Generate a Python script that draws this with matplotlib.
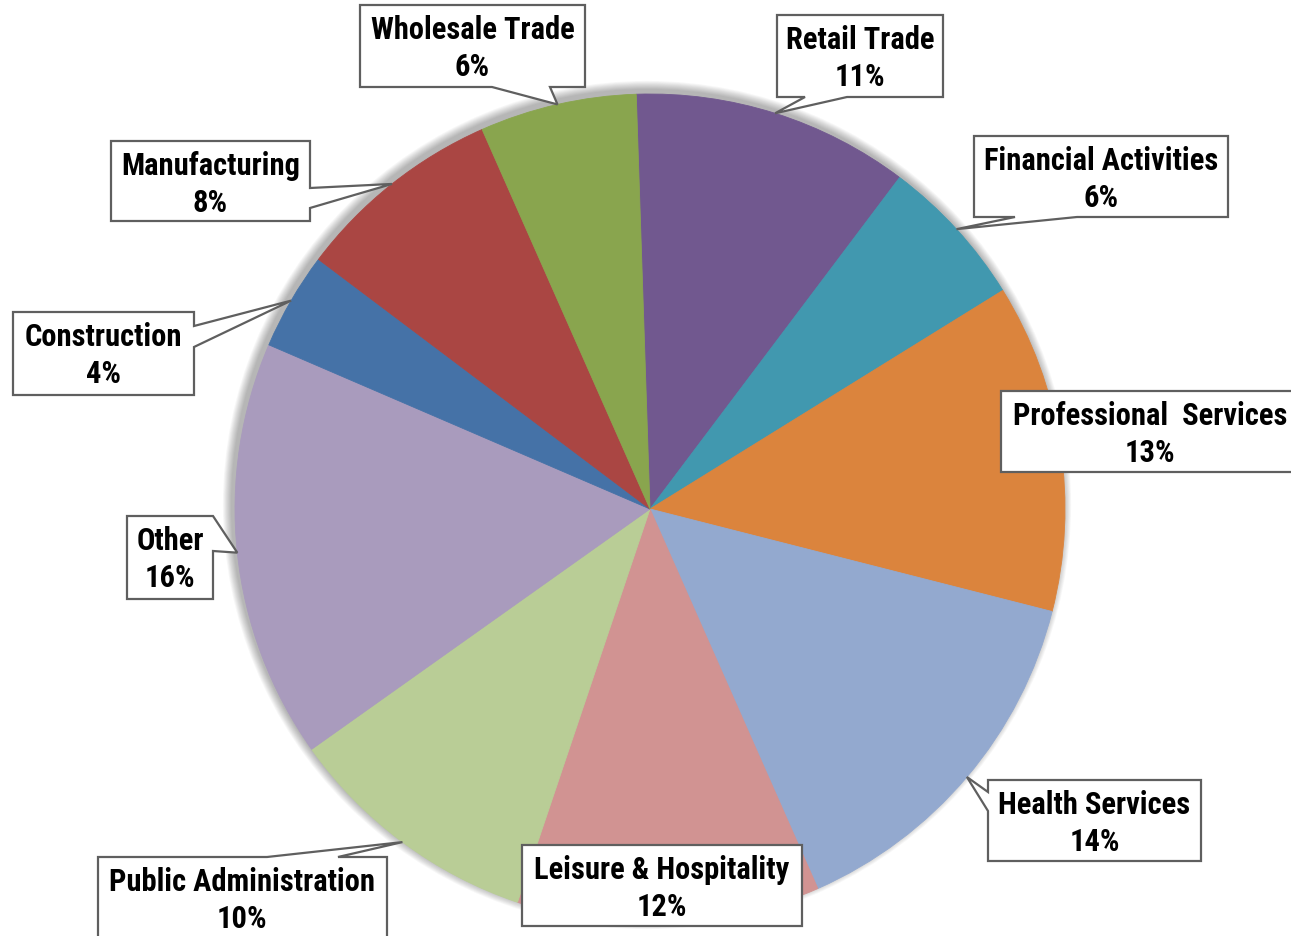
import matplotlib
matplotlib.use("Agg")
import matplotlib.pyplot as plt
from matplotlib.patches import Polygon, Circle
from matplotlib import font_manager
import numpy as np

# ---- data ----
categories = ["Retail Trade", "Financial Activities", "Professional  Services",
              "Health Services", "Leisure & Hospitality", "Public Administration",
              "Other", "Construction", "Manufacturing", "Wholesale Trade"]
shares = [10.8, 5.9, 12.8, 14.4, 11.8, 10.0, 16.3, 3.8, 8.1, 6.1]
colors = ["#71588F", "#4198AF", "#DB843D", "#93A9CF", "#D19392",
          "#B9CD96", "#A99BBD", "#4572A7", "#AA4643", "#89A54E"]

W, H = 1291, 937
fig = plt.figure(figsize=(W / 100, H / 100), dpi=100)
ax = fig.add_axes([0, 0, 1, 1])

avail = {f.name for f in font_manager.fontManager.ttflist}
fam = [f for f in ["Roboto Condensed", "PT Sans Narrow", "Liberation Sans", "DejaVu Sans"]
       if f in avail]

def py(y):
    return H - y

cx, cy, R = 650, py(510), 415

# soft shadow (slightly up-left)
for k in range(10):
    ax.add_patch(Circle((cx - 3, cy + 4), R + 1 + k * 0.9, color="black",
                        alpha=0.03, lw=0, zorder=0))

wedges, _ = ax.pie(shares, colors=colors, startangle=91.9, counterclock=False,
                   center=(cx, cy), radius=R,
                   wedgeprops=dict(linewidth=0.6, edgecolor="none"))
for w, c in zip(wedges, colors):
    w.set_edgecolor(c)
    w.set_zorder(1)

# callout layout (pixel coords, y down): box, side of pointer, base interval, text centre x
layout = {
    "Retail Trade": ((777, 16, 943, 98), "bottom", (805, 847), None),
    "Financial Activities": ((974, 137, 1228, 218), "bottom", (1015, 1077), None),
    "Professional  Services": ((1001, 392, 1310, 473), None, None, 1150),
    "Health Services": ((988, 781, 1201, 862), "left", (793, 812), None),
    "Leisure & Hospitality": ((522, 846, 802, 927), None, None, None),
    "Public Administration": ((98, 858, 387, 950), "top", (267, 338), 242),
    "Other": ((127, 517, 213, 600), "right", (517, 552), None),
    "Construction": ((13, 313, 194, 396), "right", (327, 348), None),
    "Manufacturing": ((111, 142, 310, 222), "right", (189, 209), None),
    "Wholesale Trade": ((360, 6, 585, 88), "bottom", (492, 550), None),
}

for w, name, val in zip(wedges, categories, shares):
    (x0, y0, x1, y1), side, base, tx = layout[name]
    th = np.deg2rad((w.theta1 + w.theta2) / 2)
    tip = (cx + R * np.cos(th), cy + R * np.sin(th))
    tipp = (tip[0], H - tip[1])  # to pixel coords
    pts = [(x0, y0)]
    if side == "top":
        pts += [(base[0], y0), tipp, (base[1], y0)]
    pts.append((x1, y0))
    if side == "right":
        pts += [(x1, base[0]), tipp, (x1, base[1])]
    pts.append((x1, y1))
    if side == "bottom":
        pts += [(base[1], y1), tipp, (base[0], y1)]
    pts.append((x0, y1))
    if side == "left":
        pts += [(x0, base[1]), tipp, (x0, base[0])]
    verts = [(px, py(pyy)) for px, pyy in pts]
    ax.add_patch(Polygon(verts, closed=True, facecolor="white",
                         edgecolor="#5f5f5f", lw=1.6, zorder=3, joinstyle="miter"))
    xc = tx if tx is not None else (x0 + x1) / 2
    ax.text(xc, py(y0 + 24), name, ha="center", va="center", fontsize=22,
            fontweight="bold", family=fam, zorder=4)
    ax.text(xc, py(y0 + 61), f"{round(val)}%", ha="center", va="center",
            fontsize=22, fontweight="bold", family=fam, zorder=4)

ax.set_xlim(0, W)
ax.set_ylim(0, H)
ax.set_aspect("equal")
ax.axis("off")
fig.savefig("out.png", dpi=100, facecolor="white")
